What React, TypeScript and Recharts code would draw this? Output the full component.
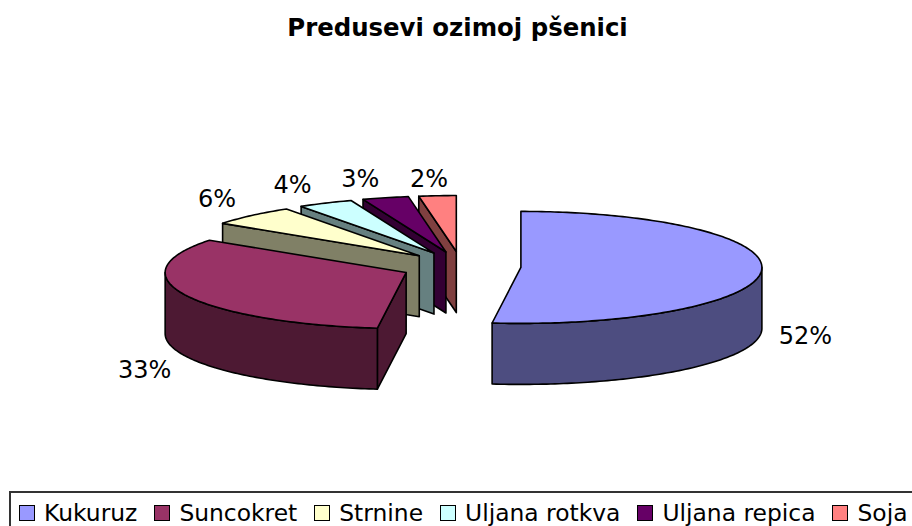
import { Legend, Pie, PieChart } from 'recharts'

const TITLE = 'Predusevi ozimoj pšenici'
const CROPS = ['Kukuruz', 'Suncokret', 'Strnine', 'Uljana rotkva', 'Uljana repica', 'Soja']
const SHARES = [51.9, 32.9, 5.9, 3.7, 3.1, 2.49]
const COLORS = ['#9999ff', '#993366', '#ffffcc', '#ccffff', '#660066', '#ff8080']
const WALLS = ['#4d4d80', '#4d1933', '#808066', '#668080', '#330033', '#804040']

// the look of the 3D pie
const SQUASH = 56 / 241
const DEPTH = 61
const EXPLODE = 60
const EXPLODE_Y = 0.25
const LABEL_GAP_X = 44
const LABEL_GAP_Y = 32
const LABEL_NUDGE = [[0, 2], [-1, 1], [-4, 7], [-13, 10], [-14, 12], [-5, 15]]

// drawn back to front, so the data runs counter-clockwise from the top
const pieData = CROPS.map((name, i) => ({
  name, value: SHARES[i], fill: COLORS[i], wall: WALLS[i], idx: i,
})).reverse()

const rad = (deg: number) => (deg * Math.PI) / 180

function SliceShape(props: any) {
  const { cx, cy, outerRadius: r, startAngle, endAngle, fill, payload } = props
  const wall = payload?.wall ?? props.wall
  // clockwise degrees from 12 o'clock
  const t1 = 450 - endAngle
  const t2 = 450 - startAngle
  const mid = (t1 + t2) / 2
  const ox = cx + Math.sin(rad(mid)) * EXPLODE
  const oy = cy - Math.cos(rad(mid)) * EXPLODE * EXPLODE_Y
  const pt = (t: number, d = 0) => [ox + Math.sin(rad(t)) * r, oy - Math.cos(rad(t)) * r * SQUASH + d]
  const arc = (a: number, b: number, d = 0) => {
    const n = Math.max(2, Math.ceil(b - a))
    return Array.from({ length: n + 1 }, (_, i) => pt(a + ((b - a) * i) / n, d))
  }
  const toPath = (pts: number[][]) => 'M' + pts.map(p => `${p[0].toFixed(2)},${p[1].toFixed(2)}`).join('L') + 'Z'

  const line = { stroke: '#000', strokeWidth: 1.6, strokeLinejoin: 'round' as const }
  const a = Math.max(t1, 90)
  const b = Math.min(t2, 270)
  const tip = pt(t1)

  return (
    <g>
      {Math.sin(rad(t1)) < -0.01 && (
        <path d={toPath([[ox, oy], tip, [tip[0], tip[1] + DEPTH], [ox, oy + DEPTH]])} fill={wall} {...line} />
      )}
      {b > a && (
        <path d={toPath([...arc(a, b), ...arc(a, b, DEPTH).reverse()])} fill={wall} {...line} />
      )}
      <path d={toPath([[ox, oy], ...arc(t1, t2)])} fill={fill} {...line} />
    </g>
  )
}

function PctLabel(props: any) {
  const { cx, cy, outerRadius: r, midAngle, percent, payload } = props
  const t = 90 - midAngle
  const sin = Math.sin(rad(t))
  const cos = Math.cos(rad(t))
  const nudge = LABEL_NUDGE[payload?.idx ?? props.idx] ?? [0, 0]
  const x = cx + sin * EXPLODE + sin * (r + LABEL_GAP_X) + nudge[0]
  const y = cy - cos * EXPLODE * EXPLODE_Y - cos * (r * SQUASH + LABEL_GAP_Y) + DEPTH + nudge[1]
  const topOffset = cos > 0 ? -DEPTH : 0
  return (
    <text x={x} y={y + topOffset} textAnchor="middle" dominantBaseline="central"
      fontFamily="'DejaVu Sans'" fontSize={24} fill="#000">
      {Math.round(percent * 100)}%
    </text>
  )
}

function CropLegend({ payload }: any) {
  const items = [...(payload ?? [])].sort((a: any, b: any) => CROPS.indexOf(a.value) - CROPS.indexOf(b.value))
  return (
    <div style={{ display: 'flex', alignItems: 'center', gap: 17, fontFamily: "'DejaVu Sans'", fontSize: 23.4, lineHeight: '28px', color: '#000', whiteSpace: 'nowrap' }}>
      {items.map((it: any) => (
        <span key={it.value} style={{ display: 'flex', alignItems: 'center', gap: 9 }}>
          <span style={{ width: 14, height: 14, background: it.color, border: '1px solid #000', display: 'inline-block', flex: 'none' }} />
          {it.value}
        </span>
      ))}
    </div>
  )
}

export default function App() {
  return (
    <div style={{ position: 'absolute', left: 0, top: 0, width: 912, height: 526, overflow: 'hidden', background: '#fff' }}>
      <PieChart width={912} height={526} margin={{ top: 0, right: 0, bottom: 0, left: 0 }}>
        <text x={457.5} y={36} textAnchor="middle" fontFamily="'DejaVu Sans'" fontWeight="bold" fontSize={24.4} fill="#000">
          {TITLE}
        </text>
        <Pie
          data={pieData}
          dataKey="value"
          nameKey="name"
          cx={461}
          cy={266.5}
          outerRadius={241}
          startAngle={90}
          endAngle={450}
          stroke="none"
          isAnimationActive={false}
          shape={SliceShape}
          inactiveShape={SliceShape}
          label={PctLabel}
          labelLine={false}
        />
        <Legend
          content={CropLegend}
          itemSorter={null}
          wrapperStyle={{ position: 'absolute', left: 9, top: 491, width: 960, height: 60, border: '2px solid #333', padding: '6px 8px', boxSizing: 'border-box' }}
        />
      </PieChart>
    </div>
  )
}
